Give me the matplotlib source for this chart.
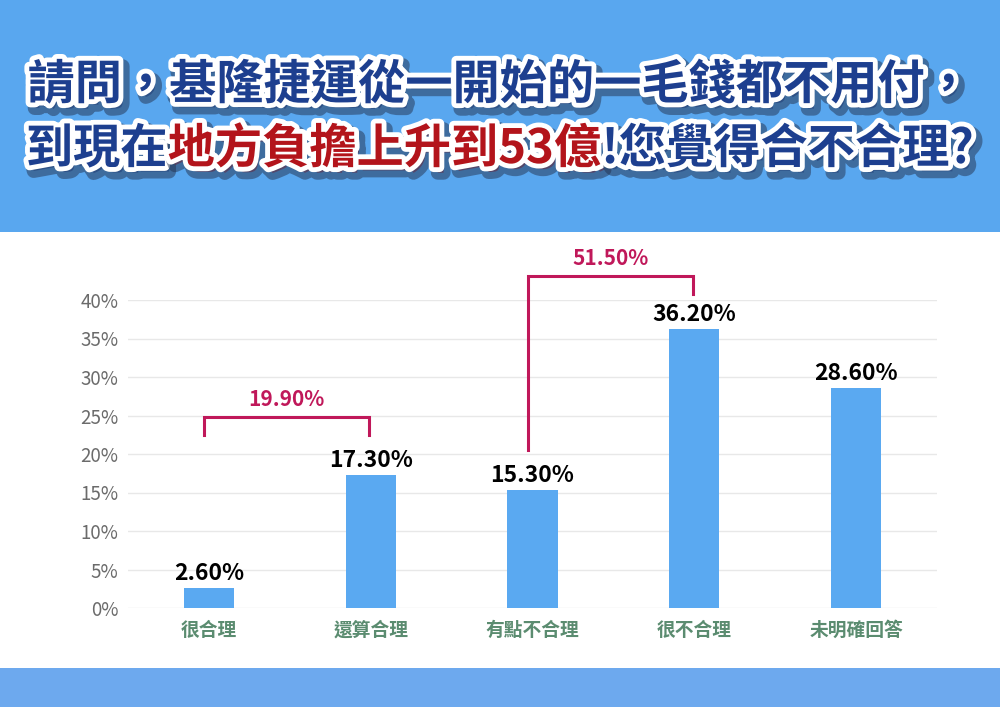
import matplotlib
matplotlib.use("Agg")
import matplotlib.pyplot as plt
import matplotlib.patheffects as pe
from matplotlib.patches import Rectangle

plt.rcParams['font.family'] = ['Noto Sans CJK TC', 'DejaVu Sans']

# -------------------------------------------------------
# DATA
# -------------------------------------------------------
categories = ['很合理', '還算合理', '有點不合理', '很不合理', '未明確回答']
values = [2.6, 17.3, 15.3, 36.2, 28.6]
yticks = [0, 5, 10, 15, 20, 25, 30, 35, 40]
groups = [(0, 1), (2, 3)]  # bracketed sums

title_line1 = [('請問，基隆捷運從一開始的一毛錢都不用付，', 'navy')]
title_line2 = [('到現在', 'navy'), ('地方負擔上升到53億', 'red'), ('!您覺得合不合理?', 'navy')]

# -------------------------------------------------------
# STYLE
# -------------------------------------------------------
TOP_BLUE = '#59a7ef'
BOTTOM_BLUE = '#6da9ee'
BAR_COLOR = '#5aa9f1'
BRACKET_COLOR = '#c0185a'
TICK_COLOR = '#6b6b6b'
CAT_COLOR = '#5b8c70'
TITLE_COLORS = {'navy': '#1d3f8f', 'red': '#b3141b'}

fig = plt.figure(figsize=(10, 7.07), dpi=100)
fig.patch.set_facecolor('white')

# background bands
fig.add_artist(Rectangle((0, 1 - 232 / 707), 1, 232 / 707, transform=fig.transFigure,
                         facecolor=TOP_BLUE, edgecolor='none', zorder=0))
fig.add_artist(Rectangle((0, 0), 1, 39 / 707, transform=fig.transFigure,
                         facecolor=BOTTOM_BLUE, edgecolor='none', zorder=0))

# -------------------------------------------------------
# TITLE (two lines, mixed colours, outlined)
# -------------------------------------------------------
title_fx = [pe.Stroke(linewidth=10, foreground='#24324f', alpha=0.5, offset=(3, -4)),
            pe.Stroke(linewidth=7, foreground='white'),
            pe.Normal()]

fig.canvas.draw()
renderer = fig.canvas.get_renderer()

def draw_line(segments, y_px):
    texts = []
    for s, c in segments:
        t = fig.text(0, 1 - y_px / 707, s, fontsize=34, fontweight='black',
                     color=TITLE_COLORS[c], va='center', ha='left',
                     path_effects=title_fx, zorder=5)
        texts.append(t)
    widths = [t.get_window_extent(renderer).width for t in texts]
    total = sum(widths)
    x = (1000 - total) / 2
    for t, w in zip(texts, widths):
        t.set_x(x / 1000)
        x += w

draw_line(title_line1, 85)
draw_line(title_line2, 149)

# -------------------------------------------------------
# BAR CHART
# -------------------------------------------------------
ax = fig.add_axes([128 / 1000, 99 / 707, 809 / 1000, 308 / 707])
ax.set_facecolor('none')
x = list(range(len(categories)))
ax.bar(x, values, width=0.31, color=BAR_COLOR, zorder=3)
ax.set_xlim(-0.5, len(categories) - 0.5)
ax.set_ylim(0, 40)
ax.set_yticks(yticks)
ax.set_yticklabels([f'{v}%' for v in yticks], fontsize=13.5, color=TICK_COLOR)
ax.set_xticks(x)
ax.set_xticklabels(categories, fontsize=13.5, color=CAT_COLOR, fontweight='bold')
ax.tick_params(length=0, axis='y', pad=7)
ax.tick_params(length=0, axis='x', pad=9)
ax.grid(axis='y', color='#e8e8e8', linewidth=1, zorder=0)
for s in ax.spines.values():
    s.set_visible(False)

for xi, v in zip(x, values):
    ax.text(xi, v + 0.4, f'{v:.2f}%', ha='center', va='bottom',
            fontsize=16.5, fontweight='bold', color='black', zorder=4)

# brackets for the summed groups
bracket_specs = [
    # (left leg bottom, right leg bottom, top)
    (22.5, 22.5, 24.8),
    (20.5, 40.8, 43.1),
]
for (a, b), (lb, rb, top) in zip(groups, bracket_specs):
    xa, xb = a - 0.03, b - 0.01
    ax.plot([xa, xa, xb, xb], [lb, top, top, rb], color=BRACKET_COLOR,
            linewidth=2.2, clip_on=False, zorder=4, solid_joinstyle='miter')
    total = values[a] + values[b]
    ax.text((xa + xb) / 2, top + 0.9, f'{total:.2f}%', ha='center', va='bottom',
            fontsize=15, fontweight='bold', color=BRACKET_COLOR, clip_on=False)

fig.savefig('out.png', dpi=100)
